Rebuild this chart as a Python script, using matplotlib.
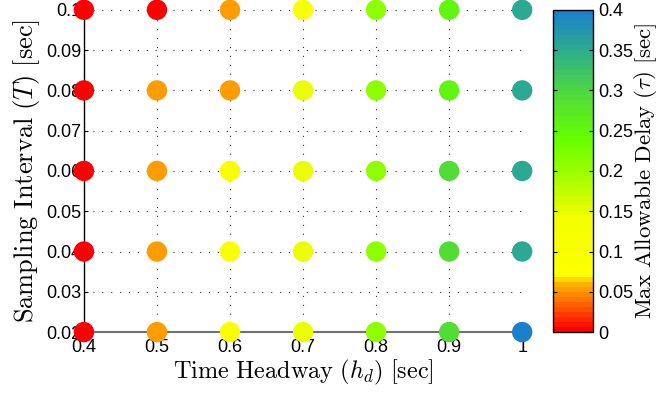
import numpy as np
import matplotlib
matplotlib.use("Agg")
import matplotlib.pyplot as plt
from matplotlib.colors import LinearSegmentedColormap
from matplotlib.ticker import FormatStrFormatter

plt.rcParams['font.family'] = ['Liberation Sans', 'DejaVu Sans']
plt.rcParams['mathtext.fontset'] = 'cm'

# data
headway = [0.4, 0.5, 0.6, 0.7, 0.8, 0.9, 1.0]
interval = [0.02, 0.04, 0.06, 0.08, 0.10]
# max allowable delay, one row per sampling interval (bottom to top)
tau_002 = [0.0, 0.055, 0.10, 0.15, 0.21, 0.29, 0.40]
tau_004 = [0.0, 0.055, 0.10, 0.15, 0.21, 0.29, 0.355]
tau_006 = [0.0, 0.055, 0.10, 0.15, 0.21, 0.29, 0.355]
tau_008 = [0.0, 0.055, 0.055, 0.15, 0.21, 0.25, 0.355]
tau_010 = [0.0, 0.0, 0.055, 0.12, 0.21, 0.25, 0.355]
tau = np.array([tau_002, tau_004, tau_006, tau_008, tau_010])

# colormap similar to the original (red -> yellow -> green -> blue)
nodes = [(0.0, '#ff0000'), (0.15, '#ffb800'), (0.17, '#ffff00'),
         (0.35, '#f4ff00'), (0.5, '#99ff00'), (0.6, '#66ff00'),
         (0.72, '#55e030'), (0.87, '#2fb088'), (1.0, '#1a80cc')]
cmap = LinearSegmentedColormap.from_list('delay', nodes, N=64)

X, Y = np.meshgrid(headway, interval)

fig = plt.figure(figsize=(6.61, 3.93), dpi=100)
ax = fig.add_axes([0.127, 0.155, 0.663, 0.82])
cax = fig.add_axes([0.837, 0.155, 0.06, 0.82])

sc = ax.scatter(X.ravel(), Y.ravel(), c=tau.ravel(), cmap=cmap, vmin=0, vmax=0.4,
                s=215, edgecolors='none', clip_on=False, zorder=3)

ax.set_xlim(0.4, 1.0)
ax.set_ylim(0.02, 0.10)
ax.set_xticks(headway)
ax.set_yticks(np.arange(0.02, 0.1001, 0.01))
ax.xaxis.set_major_formatter(FormatStrFormatter('%g'))
ax.yaxis.set_major_formatter(FormatStrFormatter('%g'))
ax.tick_params(direction='in', length=3, labelsize=13, colors='black')
ax.tick_params(axis='x', pad=5)
ax.tick_params(axis='y', pad=2)
ax.grid(True, linestyle=(0, (1, 7)), color='#333333', linewidth=0.8)
ax.set_axisbelow(True)
for s in ['top', 'right']:
    ax.spines[s].set_visible(False)
ax.spines['bottom'].set_color('#707070')
ax.spines['bottom'].set_linewidth(1.5)
ax.spines['left'].set_linewidth(1.0)

ax.set_xlabel(r'$\mathrm{Time\ Headway}\ (h_d)\ [\mathrm{sec}]$', fontsize=17.5, labelpad=1)
ax.set_ylabel(r'$\mathrm{Sampling\ Interval}\ (T)\ [\mathrm{sec}]$', fontsize=19, labelpad=3)

cb = fig.colorbar(sc, cax=cax, ticks=np.arange(0, 0.4001, 0.05))
cb.ax.yaxis.set_major_formatter(FormatStrFormatter('%g'))
cb.ax.tick_params(direction='in', length=3, labelsize=13, left=True, right=True, pad=4)
cb.outline.set_linewidth(1.0)
cb.set_label(r'$\mathrm{Max\ Allowable\ Delay}\ (\tau)\ [\mathrm{sec}]$', fontsize=16.5, labelpad=-1)

fig.savefig('out.png', dpi=100)
